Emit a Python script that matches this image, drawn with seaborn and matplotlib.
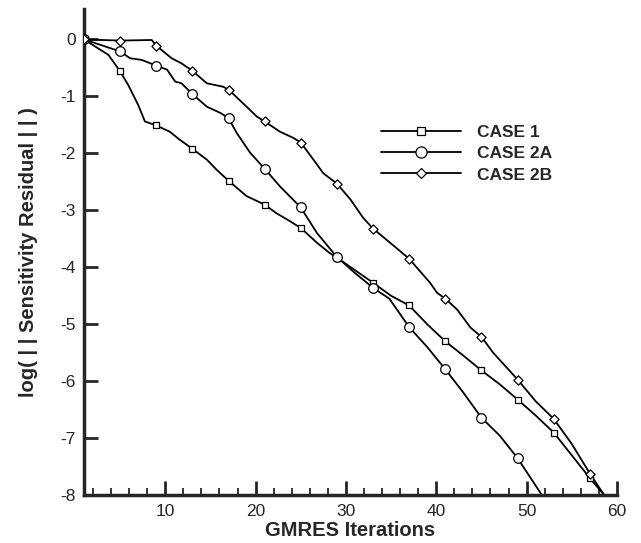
#!/usr/bin/env python3
"""
Convergencia GMRES del residuo de sensibilidad
"""
import pandas as pd
import matplotlib
matplotlib.use('Agg')
import matplotlib.pyplot as plt
import seaborn as sns
from matplotlib.lines import Line2D
from matplotlib.ticker import MultipleLocator

# --- datos ---
case1_iter = [1, 3.7, 5, 5.9, 7.0, 7.75, 9, 10.5, 11.6, 13, 14.6, 15.7, 17, 19.0, 21,
              22.3, 23.8, 25, 26.8, 28.2, 29, 31, 33, 35, 37, 39, 41, 43, 45, 47, 49,
              51, 53, 55, 57, 58.6]
case1_res = [0, -0.27, -0.56, -0.80, -1.15, -1.44, -1.51, -1.62, -1.76, -1.92, -2.11,
             -2.29, -2.48, -2.75, -2.90, -3.05, -3.19, -3.31, -3.57, -3.75, -3.83, -4.05,
             -4.27, -4.50, -4.67, -5.00, -5.30, -5.55, -5.81, -6.05, -6.32, -6.60, -6.90,
             -7.30, -7.70, -8.0]

case2a_iter = [1, 5, 6.1, 7.4, 9, 10.2, 11.1, 11.8, 13, 14.6, 16.1, 17, 17.9, 19.4, 21,
               22.7, 25, 26.8, 29, 31, 33, 34.8, 37, 39, 41, 43, 45, 47, 49, 51.7]
case2a_res = [0, -0.21, -0.33, -0.36, -0.46, -0.53, -0.74, -0.77, -0.96, -1.18, -1.29,
              -1.38, -1.64, -1.99, -2.27, -2.58, -2.95, -3.40, -3.82, -4.10, -4.36, -4.55,
              -5.05, -5.40, -5.79, -6.20, -6.64, -6.95, -7.35, -8.0]

case2b_iter = [1, 5, 8.5, 9, 10.7, 11.8, 13, 14.6, 16.4, 17, 19.0, 20.1, 21, 22.7, 24.2,
               25, 26.4, 27.5, 29, 30.5, 31.9, 33, 34.9, 37, 39.3, 40.1, 41, 42.3, 43.8,
               45, 46.3, 49, 51, 53, 55, 57, 58.6]
case2b_res = [0, -0.02, -0.01, -0.11, -0.33, -0.42, -0.55, -0.77, -0.83, -0.88, -1.18,
              -1.35, -1.44, -1.62, -1.73, -1.81, -2.11, -2.35, -2.53, -2.81, -3.13, -3.32,
              -3.57, -3.85, -4.27, -4.45, -4.55, -4.74, -5.06, -5.22, -5.50, -5.97, -6.35,
              -6.66, -7.10, -7.62, -8.0]

marker_iters = list(range(1, 58, 4))

case_names = ['CASE 1', 'CASE 2A', 'CASE 2B']
case_markers = {'CASE 1': 's', 'CASE 2A': 'o', 'CASE 2B': 'D'}
case_sizes = {'CASE 1': 22, 'CASE 2A': 48, 'CASE 2B': 22}
legend_msize = {'CASE 1': 5.5, 'CASE 2A': 8, 'CASE 2B': 5.5}


def build_frame():
    frames = []
    for name, it, res in [('CASE 1', case1_iter, case1_res),
                          ('CASE 2A', case2a_iter, case2a_res),
                          ('CASE 2B', case2b_iter, case2b_res)]:
        frames.append(pd.DataFrame({'iter': it, 'res': res, 'case': name}))
    return pd.concat(frames, ignore_index=True)


def plot_convergence():
    df = build_frame()

    sns.set_style('ticks')
    plt.rcParams['font.family'] = ['Liberation Sans', 'DejaVu Sans']
    plt.rcParams['axes.unicode_minus'] = False

    fig = plt.figure(figsize=(6.41, 5.43), dpi=100)
    ax = fig.add_axes([0.131, 0.088, 0.8315, 0.895])

    # Lineas
    for name in case_names:
        sub = df[df['case'] == name]
        sns.lineplot(data=sub, x='iter', y='res', ax=ax, color='black',
                     linewidth=1.3, sort=False, estimator=None, legend=False)

    # Marcadores cada 4 iteraciones
    for name in case_names:
        sub = df[(df['case'] == name) & (df['iter'].isin(marker_iters))]
        sns.scatterplot(data=sub, x='iter', y='res', ax=ax, marker=case_markers[name],
                        s=case_sizes[name], facecolor='white', edgecolor='black',
                        linewidth=0.9, zorder=3, legend=False)

    ax.set_xlim(1, 60)
    ax.set_ylim(-8, 0.53)
    ax.xaxis.set_minor_locator(MultipleLocator(2))
    ax.yaxis.set_major_locator(MultipleLocator(1))
    ax.set_xticks([10, 20, 30, 40, 50, 60])

    ax.tick_params(axis='both', which='major', direction='in', length=10, width=2,
                   labelsize=12.5, pad=6)
    ax.tick_params(axis='x', which='minor', direction='in', length=5, width=1.3)
    for side in ['left', 'bottom']:
        ax.spines[side].set_linewidth(2.5)
    sns.despine(ax=ax)

    ax.set_xlabel('GMRES Iterations', fontsize=14.5, fontweight='bold', labelpad=2)
    ax.set_ylabel('log( | | Sensitivity Residual | | )', fontsize=14.5,
                  fontweight='bold', labelpad=16)

    handles = [Line2D([], [], color='black', linewidth=1.3, marker=case_markers[n],
                      markersize=legend_msize[n], markerfacecolor='white',
                      markeredgewidth=0.9, markeredgecolor='black') for n in case_names]
    ax.legend(handles, case_names, loc='upper left', bbox_to_anchor=(0.535, 0.787),
              frameon=False, handlelength=4.6, handletextpad=0.9, labelspacing=0.35,
              prop={'weight': 'bold', 'size': 12.5}, borderpad=0.2)

    plt.savefig('out.png', dpi=100)


if __name__ == "__main__":
    plot_convergence()
